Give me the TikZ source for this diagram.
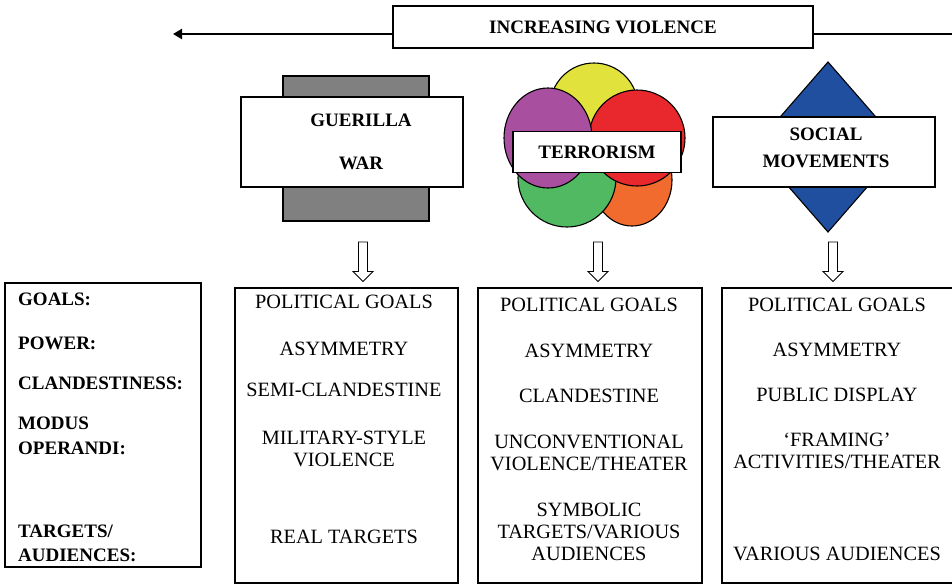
\documentclass[tikz,border=0pt]{standalone}
\usepackage{fontspec}
\setmainfont{Liberation Serif}
\usepackage{tikz}
\usetikzlibrary{arrows.meta,calc}
\definecolor{blobyellow}{RGB}{225,227,60}
\definecolor{blobpurple}{RGB}{168,80,159}
\definecolor{blobred}{RGB}{232,40,44}
\definecolor{blobgreen}{RGB}{80,185,98}
\definecolor{bloborange}{RGB}{240,107,45}
\definecolor{smblue}{RGB}{31,79,158}
\definecolor{gwgray}{RGB}{128,128,128}
\newcommand{\hollowdown}[2]{%
  \draw[hollowarrow] let \p1=(#1), \p2=(#2) in
    (\x1-4.5pt,\y1) -- (\x1+4.5pt,\y1) -- (\x1+4.5pt,\y2+10pt) -- (\x1+10pt,\y2+10pt) --
    (\x1,\y2) -- (\x1-10pt,\y2+10pt) -- (\x1-4.5pt,\y2+10pt) -- cycle;}
\tikzset{
  plainbox/.style={draw=black,line width=1.1pt,fill=white,inner sep=0pt},
  hd/.style={font=\fontsize{19}{22}\selectfont\bfseries,text height=12.6pt,text depth=0pt,inner sep=0pt},
  row/.style={font=\fontsize{20.3}{23}\selectfont,text height=13.4pt,text depth=0pt,inner sep=0pt},
  blob/.style={draw=black,line width=1.1pt},
  hollowarrow/.style={draw=black,line width=0.9pt,fill=white,line join=miter}
}

\begin{document}
\begin{tikzpicture}[x=1pt,y=-1pt]
\useasboundingbox (0,0) rectangle (952,584);
% ---------------- top: increasing violence ----------------
\node[plainbox,hd,minimum width=420,minimum height=42] (topbox) at (603,27) {INCREASING VIOLENCE};
\coordinate (leftend) at (173,34);
\coordinate (rightend) at (956,34);
\draw[line width=2.2pt,-{Triangle[length=9pt,width=10pt]}] (topbox.west |- leftend) -- (leftend);
\draw[line width=2.2pt] (topbox.east |- rightend) -- (rightend);
% ---------------- guerilla war ----------------
\fill[gwgray,draw=black,line width=1.1pt] (283,76) rectangle (429,221);
\node[plainbox,minimum width=222,minimum height=90] (gwhead) at (352,142) {};
\node[hd] (gwl1) at (361,120) {GUERILLA};
\node[hd] (gwl2) at (361,163) {WAR};
% ---------------- terrorism ----------------
\filldraw[blob,fill=blobyellow] (594,107) ellipse (44 and 44);
\filldraw[blob,fill=bloborange] (632,180) ellipse (40 and 46);
\filldraw[blob,fill=blobgreen] (567,178) ellipse (49 and 49);
\filldraw[blob,fill=blobred] (637,138) ellipse (48 and 48);
\filldraw[blob,fill=blobpurple] (548,138) ellipse (44 and 50);
\node[plainbox,hd,minimum width=168,minimum height=41] (trhead) at (597,152) {TERRORISM};
% ---------------- social movements ----------------
\filldraw[fill=smblue,draw=black,line width=1.1pt] (828,62) -- (902,147) -- (828,232) -- (754,147) -- cycle;
\node[plainbox,minimum width=222,minimum height=70] (smhead) at (824,152) {};
\node[hd] (sml1) at (826,134) {SOCIAL};
\node[hd] (sml2) at (826,161) {MOVEMENTS};
% ---------------- bottom boxes ----------------
\node[plainbox,minimum width=196,minimum height=284] (lblbox) at (103,425) {};
\node[plainbox,minimum width=223,minimum height=295] (gwbox) at (346.5,435.5) {};
\node[plainbox,minimum width=224,minimum height=295] (trbox) at (590,435.5) {};
\node[plainbox,minimum width=236,minimum height=295] (smbox) at (840,435.5) {};
% hollow arrows down
\coordinate (gwa) at (363,242);
\coordinate (tra) at (598,242);
\coordinate (sma) at (833,242);
\hollowdown{gwa}{$(gwbox.north -| gwa)+(0,-6)$}
\hollowdown{tra}{$(trbox.north -| tra)+(0,-6)$}
\hollowdown{sma}{$(smbox.north -| sma)+(0,-6)$}
% row labels
\foreach \y/\t [count=\i] in {299/{GOALS:},343/{POWER:},383/{CLANDESTINESS:},423/{MODUS},448/{OPERANDI:},531/{TARGETS/},555/{AUDIENCES:}}
  \node[hd,anchor=west] (lbl-\i) at (18,\y) {\t};
\foreach \y/\t [count=\i] in {302/POLITICAL GOALS,349/ASYMMETRY,390/SEMI-CLANDESTINE,438/MILITARY-STYLE,460/VIOLENCE,537/REAL TARGETS}
  \node[row] (gw-\i) at (344,\y) {\t};
\foreach \y/\t [count=\i] in {305/POLITICAL GOALS,351/ASYMMETRY,396/CLANDESTINE,442/UNCONVENTIONAL,464/{VIOLENCE/THEATER},510/SYMBOLIC,532/{TARGETS/VARIOUS},554/AUDIENCES}
  \node[row] (tr-\i) at (589,\y) {\t};
\foreach \y/\t [count=\i] in {305/POLITICAL GOALS,350/ASYMMETRY,395/PUBLIC DISPLAY,440/`FRAMING',462/{ACTIVITIES/THEATER},554/VARIOUS AUDIENCES}
  \node[row] (sm-\i) at (837,\y) {\t};
\end{tikzpicture}
\end{document}
